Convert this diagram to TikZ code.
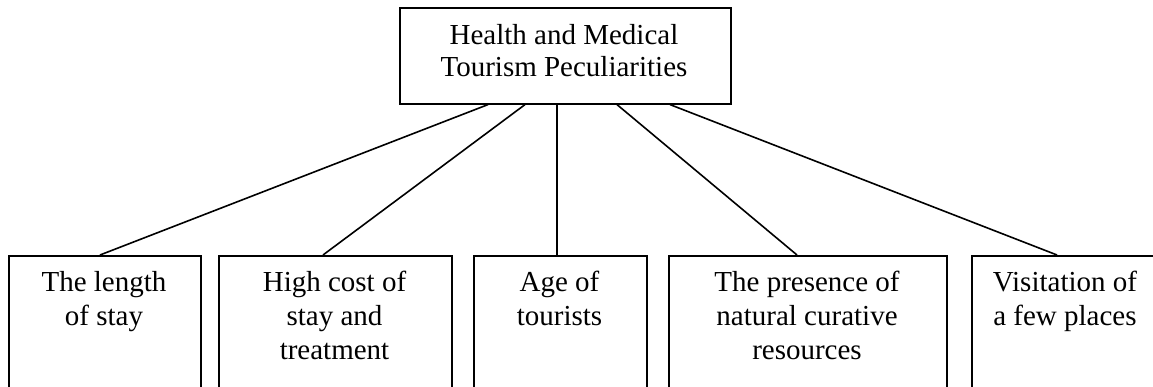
\documentclass[tikz,border=0pt]{standalone}
\usepackage{fontspec}
\setmainfont{Liberation Serif}
\begin{document}
\begin{tikzpicture}[x=1pt,y=1pt,
  box/.style={draw, line width=1.6pt, inner sep=0pt, anchor=north west},
  caption/.style={align=center, anchor=base, inner sep=0pt,
    font=\fontsize{29}{34}\selectfont},
  link/.style={line width=1.6pt}]
\useasboundingbox (0,0) rectangle (1153,387);
\clip (0,0) rectangle (1153,387);

% boxes (the lower row runs past the bottom edge)
\node[box, minimum width=331pt, minimum height=96pt] (top) at (399,380) {};
\node[box, minimum width=192pt, minimum height=150pt] (b1) at (8,132) {};
\node[box, minimum width=233pt, minimum height=150pt] (b2) at (218,132) {};
\node[box, minimum width=173pt, minimum height=150pt] (b3) at (473,132) {};
\node[box, minimum width=278pt, minimum height=150pt] (b4) at (668,132) {};
\node[box, minimum width=188pt, minimum height=150pt] (b5) at (971,132) {};

% texts, placed by the baseline of their last line
\node[caption, font=\fontsize{29}{32}\selectfont] (topt) at (564,310)
  {Health and Medical\\Tourism Peculiarities};
\node[caption] (b1t) at (104,61) {The length\\of stay};
\node[caption] (b2t) at (334.5,27) {High cost of\\stay and\\treatment};
\node[caption] (b3t) at (559.5,61) {Age of\\tourists};
\node[caption] (b4t) at (807,27) {The presence of\\natural curative\\resources};
\node[caption] (b5t) at (1065,61) {Visitation of\\a few places};

% connectors
\draw[link] ([xshift=89pt]top.south west) -- ([xshift=92pt]b1.north west);
\draw[link] ([xshift=126pt]top.south west) -- ([xshift=105pt]b2.north west);
\draw[link] ([xshift=158pt]top.south west) -- ([xshift=84pt]b3.north west);
\draw[link] ([xshift=218pt]top.south west) -- ([xshift=129pt]b4.north west);
\draw[link] ([xshift=271pt]top.south west) -- ([xshift=86pt]b5.north west);
\end{tikzpicture}
\end{document}
